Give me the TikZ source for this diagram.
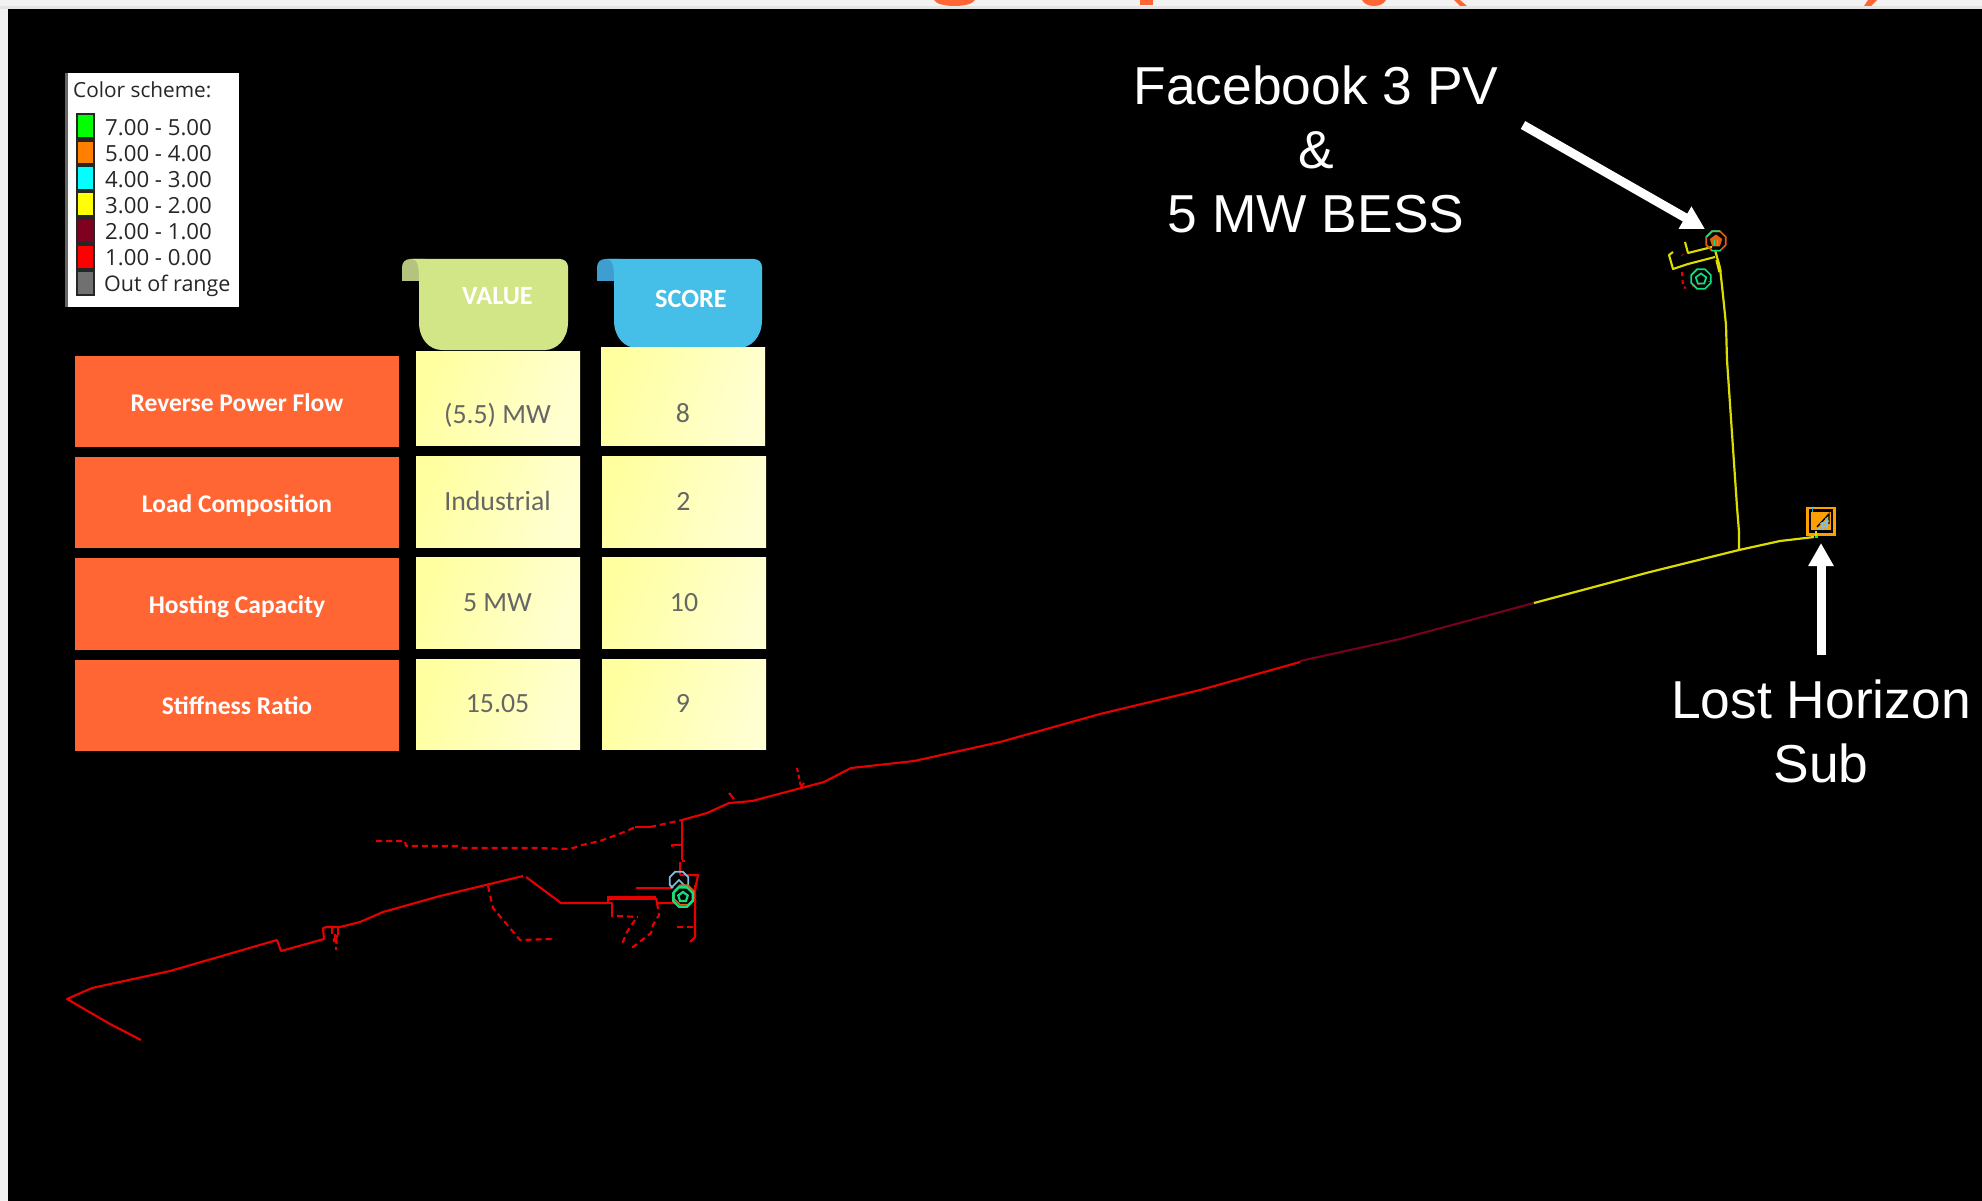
\documentclass[tikz,border=0pt]{standalone}
\usepackage{fontspec}
\setmainfont{Carlito}
\newfontfamily\bigfont{Liberation Sans}
\newfontfamily\legfont{Open Sans}
\usetikzlibrary{arrows.meta,shapes.geometric}
\definecolor{pagegrey}{HTML}{F2F2F2}
\definecolor{bandgrey}{HTML}{E4E4E4}
\definecolor{titleorange}{HTML}{FF6633}
\definecolor{rowred}{HTML}{FF6633}
\definecolor{cellA}{HTML}{FFFFA0}
\definecolor{cellB}{HTML}{FFFFD2}
\definecolor{celltext}{HTML}{666666}
\definecolor{valbody}{HTML}{D2E688}
\definecolor{valfold}{HTML}{B4C47E}
\definecolor{scobody}{HTML}{45BEE8}
\definecolor{scofold}{HTML}{3E9ECF}
\definecolor{netred}{HTML}{E80000}
\definecolor{netdark}{HTML}{7A0020}
\definecolor{netyel}{HTML}{DCDC00}
\definecolor{octgreen}{HTML}{10E080}
\definecolor{octorange}{HTML}{E06010}
\definecolor{octblue}{HTML}{80C0E0}
\definecolor{subor}{HTML}{FFA000}
\tikzset{
  rowbox/.style={fill=rowred,anchor=north west,inner sep=0pt,outer sep=0pt},
  cellbox/.style={left color=cellA,right color=cellB,shading angle=70,anchor=north west,inner sep=0pt,outer sep=0pt},
  rowtext/.style={anchor=base,inner sep=0pt,text=white,font=\fontsize{25.5}{30}\selectfont\bfseries},
  celltxt/.style={anchor=base,inner sep=0pt,text=celltext,font=\fontsize{27.8}{30}\selectfont},
  tabtext/.style={anchor=base,inner sep=0pt,text=white,font=\fontsize{26.3}{30}\selectfont\bfseries},
  legtext/.style={anchor=base west,inner sep=0pt,text=black!85,font=\legfont\fontsize{22.2}{26}\selectfont},
  bigtext/.style={text=white,align=center,inner sep=0pt,font=\bigfont\fontsize{53.4}{64}\selectfont},
  bigarrow/.style={draw=white,line width=9pt,-{Triangle[length=23pt,width=24pt]}},
  swatch/.style={anchor=north west,inner sep=0pt,outer sep=0pt,minimum width=15.5pt},
  redline/.style={draw=netred,line width=2.1pt,line join=round},
  reddash/.style={redline,dash pattern=on 6pt off 4pt},
  octa/.style={regular polygon,regular polygon sides=8,inner sep=0pt,outer sep=0pt,line width=1.7pt},
  hut/.style={regular polygon,regular polygon sides=5,inner sep=0pt,outer sep=0pt,line width=1.7pt},
}
\begin{document}
\begin{tikzpicture}[x=1pt,y=-1pt]
\useasboundingbox (0,0) rectangle (1982,1201);
% page and screen
\fill[pagegrey] (0,0) rectangle (1982,1201);
\fill[bandgrey] (0,6) rectangle (1982,9);
\fill[black] (8,9) rectangle (1982,1201);
% clipped title remnants
\fill[titleorange] (934,0) .. controls (938,8) and (971,8) .. (975,0) -- cycle;
\fill[titleorange] (1140,0) rectangle (1153,5);
\fill[titleorange] (1362,0) .. controls (1366,8) and (1382,8) .. (1386,0) -- cycle;
\fill[titleorange] (1454,0) -- (1460,0) -- (1467,6) -- (1460,6) -- cycle;
\fill[titleorange] (1868,0) -- (1877,0) -- (1871,6) -- (1864,6) -- cycle;
% legend
\node[anchor=north west,fill=white,inner sep=0pt,minimum width=174pt,minimum height=234pt] (legend) at (65,73) {};
\fill[black!60] (65,73) rectangle (68,307);
\node[legtext,font=\legfont\fontsize{20.8}{26}\selectfont] (legtitle) at (73,97.5) {Color scheme:};
\fill[black!85] (75.5,113) rectangle (95,296);
\node[swatch,fill={rgb,255:red,0;green,255;blue,0},minimum height=22pt] (s1) at (77.5,115) {};
\node[swatch,fill={rgb,255:red,255;green,128;blue,0},minimum height=21pt] (s2) at (77.5,142) {};
\node[swatch,fill={rgb,255:red,0;green,255;blue,255},minimum height=22pt] (s3) at (77.5,167) {};
\node[swatch,fill={rgb,255:red,255;green,255;blue,0},minimum height=22pt] (s4) at (77.5,193) {};
\node[swatch,fill={rgb,255:red,128;green,0;blue,32},minimum height=22pt] (s5) at (77.5,220) {};
\node[swatch,fill={rgb,255:red,255;green,0;blue,0},minimum height=22pt] (s6) at (77.5,246) {};
\node[swatch,fill={rgb,255:red,112;green,112;blue,112},minimum height=22pt] (s7) at (77.5,272) {};
\node[legtext] (l1) at (105,135.5) {7.00 - 5.00};
\node[legtext] (l2) at (105,161.5) {5.00 - 4.00};
\node[legtext] (l3) at (105,187.5) {4.00 - 3.00};
\node[legtext] (l4) at (105,213.5) {3.00 - 2.00};
\node[legtext] (l5) at (105,239.5) {2.00 - 1.00};
\node[legtext] (l6) at (105,265.5) {1.00 - 0.00};
\node[legtext,font=\legfont\fontsize{21.5}{26}\selectfont] (l7) at (104,291) {Out of range};
% tabs
\fill[valfold] (402,281) -- (402,267) arc[start angle=180,end angle=270,radius=8] -- (425,259) -- (425,281) -- cycle;
\fill[valbody] (412,259) -- (560,259) arc[start angle=-90,end angle=0,radius=8] -- (568,322)
  .. controls (568,340) and (556,350) .. (545,350) -- (442,350) .. controls (430,350) and (419,340) .. (419,322) -- (419,279)
  .. controls (419,268) and (418,259) .. (412,259) -- cycle;
\fill[scofold] (597,281) -- (597,267) arc[start angle=180,end angle=270,radius=8] -- (620,259) -- (620,281) -- cycle;
\fill[scobody] (607,259) -- (754,259) arc[start angle=-90,end angle=0,radius=8] -- (762,320)
  .. controls (762,338) and (750,348) .. (739,348) -- (637,348) .. controls (625,348) and (614,338) .. (614,320) -- (614,279)
  .. controls (614,268) and (613,259) .. (607,259) -- cycle;
\node[tabtext] (valuehead) at (497.5,304) {VALUE};
\node[tabtext] (scorehead) at (691,308) {SCORE};
% table: row headers
\node[rowbox,minimum width=324pt,minimum height=91pt] (r1) at (75,356) {};
\node[rowbox,minimum width=324pt,minimum height=91pt] (r2) at (75,457) {};
\node[rowbox,minimum width=324pt,minimum height=92pt] (r3) at (75,558) {};
\node[rowbox,minimum width=324pt,minimum height=91pt] (r4) at (75,660) {};
\node[rowtext] (t1) at (237,411) {Reverse Power Flow};
\node[rowtext] (t2) at (237,512) {Load Composition};
\node[rowtext] (t3) at (237,613) {Hosting Capacity};
\node[rowtext] (t4) at (237,714) {Stiffness Ratio};
% value cells
\node[cellbox,minimum width=164pt,minimum height=94pt] (v1) at (416,351) {};
\node[cellbox,minimum width=164pt,minimum height=91pt] (v2) at (416,456) {};
\node[cellbox,minimum width=164pt,minimum height=91pt] (v3) at (416,557) {};
\node[cellbox,minimum width=164pt,minimum height=90pt] (v4) at (416,659) {};
\node[cellbox,minimum width=164pt,minimum height=98pt] (c1) at (601,347) {};
\node[cellbox,minimum width=164pt,minimum height=91pt] (c2) at (602,456) {};
\node[cellbox,minimum width=164pt,minimum height=91pt] (c3) at (602,557) {};
\node[cellbox,minimum width=164pt,minimum height=90pt] (c4) at (602,659) {};
\node[celltxt] (vt1) at (497.5,423) {(5.5) MW};
\node[celltxt] (vt2) at (497.5,510.5) {Industrial};
\node[celltxt] (vt3) at (497.5,611.5) {5 MW};
\node[celltxt] (vt4) at (497.5,712.5) {15.05};
\node[celltxt] (ct1) at (683,422) {8};
\node[celltxt] (ct2) at (683.5,510.5) {2};
\node[celltxt] (ct3) at (684,611.5) {10};
\node[celltxt] (ct4) at (683,712.5) {9};
% big labels and arrows
\node[bigtext] (fb) at (1316,149.5) {Facebook 3 PV\\\&\\5 MW BESS};
\node[bigtext] (lh) at (1821,731.5) {Lost Horizon\\Sub};
\coordinate (fbtail) at (1523,125);
\coordinate (fbtip) at (1705,229);
\coordinate (lhtail) at (1821,655);
\coordinate (lhtip) at (1821,543);
\draw[bigarrow] (fbtail) -- (fbtip);
\draw[bigarrow] (lhtail) -- (lhtip);
% feeder: main trunk
\draw[redline] (141,1040) -- (110,1024) -- (67,999) -- (92,988) -- (170,971) -- (277,940) -- (281,951) -- (324,939)
  -- (323,928) -- (327,927) -- (340,927) -- (360,922) -- (383,912) -- (440,896) -- (523,876);
\draw[redline] (526,877) -- (561,903) -- (608,903);
\draw[netred,line width=3.4pt] (608,898) -- (656,898);
\draw[redline] (608,896) -- (608,903) -- (612,903) -- (612,917);
\draw[redline] (656,898) -- (657,903) -- (675,903);
\draw[redline] (636,888) -- (677,888);
\draw[redline] (680,875) -- (698,875) -- (695,890);
\draw[redline] (695,885) -- (695,937) -- (690,942);
\draw[redline] (680,875) -- (680,862) ;
\draw[redline] (682,860) -- (682,820);
\draw[redline] (672,847) -- (672,845) -- (682,845);
\draw[redline] (682,861) -- (685,861);
\draw[redline] (682,820) -- (707,813) -- (729,803) -- (752,801) -- (824,782) -- (851,768) -- (914,761)
  -- (1000,742) -- (1100,714) -- (1200,690) -- (1300,662);
\draw[redline] (729,793) -- (734,799);
\draw[reddash,dash pattern=on 4pt off 3pt] (797,768) -- (801,787);
\draw[redline] (801,787) -- (804,783);
% small hanging details near the left jog
\draw[redline,line width=1.2pt] (332,928) -- (332,934) (338,928) -- (338,935) (335,934) -- (335,938);
\draw[reddash,dash pattern=on 3pt off 3pt] (337,935) -- (336,950);
\fill[netred] (335,940) circle[radius=2.5];
% dashed laterals
\draw[reddash] (376,841) -- (405,841) -- (406,846) -- (458,846) -- (463,848) -- (537,848) -- (570,849) -- (582,845) -- (600,841) -- (627,831) -- (635,827);
\draw[redline] (635,827) -- (650,827);
\draw[reddash] (650,827) -- (673,822) -- (682,820);
\draw[reddash] (488,886) -- (493,908) -- (520,940) -- (553,939);
\draw[reddash] (617,916) -- (638,917);
\draw[reddash] (635,920) -- (627,932) -- (622,944);
\draw[reddash] (657,903) -- (659,915) -- (653,925) -- (651,933) -- (638,943) -- (633,947) -- (629,945);
\draw[reddash] (677,927) -- (695,927);
% sub-transmission
\draw[netdark,line width=2pt] (1300,661) -- (1400,639) -- (1534,603);
\draw[netyel,line width=2.2pt,line join=round] (1534,603) -- (1650,572) -- (1739,550) -- (1780,541) -- (1814,537);
\draw[netyel,line width=2.2pt,line join=round] (1739,550) -- (1739,532) -- (1737,507) -- (1727,360) -- (1726,325) -- (1724,305) -- (1722,286) -- (1720,268) -- (1715,250);
\draw[netyel,line width=3.4pt] (1717,260) -- (1720,272);
\draw[netyel,line width=2.1pt,line join=round] (1715,257) -- (1688,264) -- (1673,269) -- (1669,255) -- (1673,252);
\draw[netyel,line width=2.1pt,line join=round] (1712,247) -- (1688,253) -- (1685,242);
\draw[netdark,line width=1.5pt] (1681,256) -- (1684,254);
\draw[reddash,dash pattern=on 4pt off 4pt] (1682,272) -- (1683,287) -- (1686,288);
\draw[redline,line width=1.5pt,dash pattern=on 3pt off 3pt] (1692,286) -- (1700,284);
\draw[redline,line width=1pt] (1708,282) -- (1712,282);
% PV / BESS symbols, upper site
\node[octa,draw=octorange,minimum size=21pt] (fbring) at (1716,241) {};
\draw[octgreen,line width=1.8pt] (fbring.corner 1) -- (fbring.corner 2) -- (fbring.corner 3);
\draw[octgreen,line width=1.8pt] (1711,250.5) -- (1721,250.5);
\node[hut,draw=octorange,fill=octorange,minimum size=11pt] (fbhouse) at (1716,241) {};
\draw[octgreen,line width=1.2pt] (1714.5,240) -- (1714.5,246) (1717.5,240) -- (1717.5,246);
\node[octa,draw=octgreen,minimum size=21pt] (pvring) at (1701,279) {};
\node[hut,draw=octgreen,minimum size=11pt] (pvhouse) at (1701,279) {};
% PV / BESS symbols, lower site
\node[octa,draw=octblue,minimum size=20pt] (bluering) at (679,881) {};
\fill[black] (672,889) -- (679,882) -- (686,889) -- (686,892) -- (672,892) -- cycle;
\draw[octblue,line width=1.5pt] (671,888) -- (679,880) -- (687,888);
\node[octa,draw=octorange,minimum size=21pt] (orring) at (684,895) {};
\node[octa,draw=octgreen,line width=2.4pt,minimum size=21pt] (grring) at (683,897) {};
\node[hut,draw=octgreen,line width=2.2pt,minimum size=10pt] (grhouse) at (683,897) {};
% substation
\node[draw=subor,line width=2.6pt,minimum width=27pt,minimum height=26.5pt,inner sep=0pt] (subouter) at (1821,521.3) {};
\node[fill=subor,minimum width=20pt,minimum height=18pt,inner sep=0pt] (subinner) at (1821,521) {};
\draw[black,line width=1.4pt] (1817,527) -- (1829,514) -- (1829,524);
\draw[octblue,line width=1.2pt] (1817,529) -- (1829,525) (1820,524) -- (1829,521) (1822,522) -- (1823,530) (1826,518) -- (1827,529);
\draw[cyan,line width=1pt] (1812,508) -- (1812,512);
\draw[netyel,line width=1.2pt] (1816,531) -- (1816,537);
\fill[green] (1815,536.2) rectangle (1818,538);
\end{tikzpicture}
\end{document}
